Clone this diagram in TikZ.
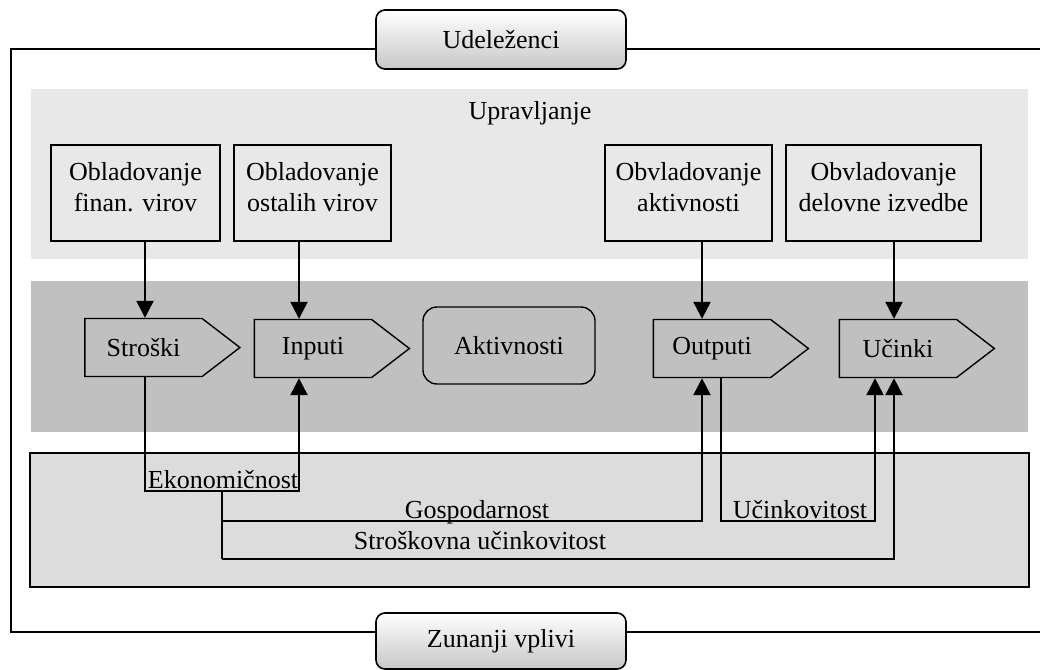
\documentclass[tikz,border=0pt]{standalone}
\usepackage{fontspec}
\setmainfont{Liberation Serif}
\usetikzlibrary{shapes.symbols,arrows.meta}

\definecolor{bandlight}{HTML}{E8E8E8}
\definecolor{banddark}{HTML}{C0C0C0}
\definecolor{bandlow}{HTML}{DCDCDC}

\tikzset{
  ctrlbox/.style={draw,line width=1.4pt,fill=bandlight,minimum width=#1,
    minimum height=96pt,align=center,inner sep=2pt,text depth=12pt},
  sig/.style={signal,signal to=east,signal pointer angle=75,draw,line width=1.4pt,
    fill=banddark,minimum width=155pt,minimum height=58pt,inner sep=2pt},
  tab/.style={draw,line width=1.6pt,rounded corners=9pt,top color=white,
    bottom color=black!22,minimum width=250pt,inner sep=0pt},
  conn/.style={line width=2.4pt},
  arr/.style={conn,-{Triangle[width=17pt,length=17pt]}},
  lbl/.style={anchor=base,inner sep=0pt}
}

\begin{document}
\begin{tikzpicture}[x=1pt,y=-1pt,font=\fontsize{26}{31}\selectfont]
\useasboundingbox (0,0) rectangle (1040,669);

% okvir in pasovi
\draw[line width=2.8pt] (1040,49) -- (11,49) -- (11,632) -- (1040,632);
\fill[bandlight] (31,89) rectangle (1028,259);
\fill[banddark] (31,281) rectangle (1028,432);
\draw[fill=bandlow,line width=1.6pt] (30,453) rectangle (1029,587);

\node[tab,minimum height=59pt] (udel) at (501,39.5) {Udeleženci};
\node[tab,minimum height=56pt] (zun) at (501,641) {Zunanji vplivi};

% upravljanje
\node (uprav) at (530,113) {Upravljanje};
\node[ctrlbox=169pt] (fin) at (135.5,193) {Obladovanje\\finan. virov};
\node[ctrlbox=157pt] (ost) at (312.5,193) {Obladovanje\\ostalih virov};
\node[ctrlbox=167pt] (akt) at (688.5,193) {Obvladovanje\\aktivnosti};
\node[ctrlbox=195pt] (izv) at (883.5,193) {Obvladovanje\\delovne izvedbe};

% proces
\node[sig] (stroski) at (143.5,347.5) {Stroški};
\node[sig] (inputi) at (313,348.5) {Inputi};
\node[draw,line width=1.4pt,fill=banddark,rounded corners=14pt,minimum width=172pt,
  minimum height=77pt] (aktiv) at (509,345.5) {Aktivnosti};
\node[sig] (outputi) at (712,348.5) {Outputi};
\node[sig] (ucinki) at (898,348.5) {Učinki};

% pasovi povezav
\coordinate (la) at (145,0);
\coordinate (lb) at (299,0);
\coordinate (lc) at (222,0);
\coordinate (ld) at (702,0);
\coordinate (le) at (721,0);
\coordinate (lf) at (875,0);
\coordinate (lg) at (894,0);
\coordinate (r1) at (0,491);
\coordinate (r2) at (0,521);
\coordinate (r3) at (0,559);

\draw[arr] (fin.south -| la) -- (stroski.north -| la);
\draw[arr] (ost.south -| lb) -- (inputi.north -| lb);
\draw[arr] (akt.south -| ld) -- (outputi.north -| ld);
\draw[arr] (izv.south -| lg) -- (ucinki.north -| lg);

\draw[arr] (stroski.south -| la) -- (la |- r1) -- (lb |- r1) -- (inputi.south -| lb);
\draw[conn] (lc |- r1) -- (lc |- r3);
\draw[arr] (lc |- r2) -- (ld |- r2) -- (outputi.south -| ld);
\draw[arr] (lc |- r3) -- (lg |- r3) -- (ucinki.south -| lg);
\draw[arr] (outputi.south -| le) -- (le |- r2) -- (lf |- r2) -- (ucinki.south -| lf);

\node[lbl] (eko) at (223,488) {Ekonomičnost};
\node[lbl] (gosp) at (477,518) {Gospodarnost};
\node[lbl] (ucink) at (800,518) {Učinkovitost};
\node[lbl] (strosk) at (480,549) {Stroškovna učinkovitost};
\end{tikzpicture}
\end{document}
